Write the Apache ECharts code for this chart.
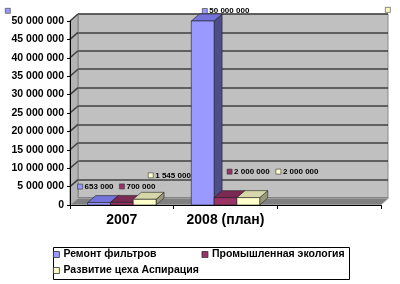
<!DOCTYPE html>
<html><head><meta charset="utf-8">
<script src="https://cdn.jsdelivr.net/npm/echarts@6/dist/echarts.min.js"></script>
<style>html,body{margin:0;padding:0;background:#fff}#c{width:400px;height:284px}</style>
</head><body><div id="c"></div>
<script>
// ---- data ----
const categories = ['2007', '2008 (план)', ''];
const seriesNames = ['Ремонт фильтров', 'Промышленная экология', 'Развитие цеха Аспирация'];
const remontFiltrov = [653000, 50000000, null];
const promEkologiya = [700000, 2000000, null];
const razvitieAspiraciya = [1545000, 2000000, null];
const yMin = 0, yMax = 50000000, yStep = 5000000;

// ---- styles ----
const FONT = 'Arial, "Liberation Sans", sans-serif';
const faceColors = [
  {front: '#9999ff', top: '#7373d9', side: '#4d4d8c'},
  {front: '#993366', top: '#7a2952', side: '#5c1f3d'},
  {front: '#ffffcc', top: '#d6d6aa', side: '#99997a'}
];
const DX = 8, DY = -7;
// label offsets relative to (bar front-left x, bar top y)
const labelOffsets = [
  [[-10, -16], [11, -10]],
  [[9, -16], [13, -26]],
  [[15, -24], [39, -26]]
];
const seriesValues = [remontFiltrov, promEkologiya, razvitieAspiraciya];

function fmt(v) { return String(Math.round(v)).replace(/\B(?=(\d{3})+(?!\d))/g, ' '); }

const yTicks = [];
for (let v = yMin; v <= yMax; v += yStep) yTicks.push(v);

const chart = echarts.init(document.getElementById('c'), null, {renderer: 'canvas'});

function barRender(si) {
  return function (params, api) {
    const ci = api.value(0), val = api.value(1);
    if (val == null || isNaN(val)) return;
    const band = api.size([1, 0])[0];
    const w = band * 0.22;
    const c = api.coord([ci, val]);
    const b = api.coord([ci, 0]);
    const x0 = c[0] - 1.5 * w + si * w, x1 = x0 + w;
    const yt = c[1], yb = b[1];
    const col = faceColors[si];
    const st = {stroke: '#222', lineWidth: 0.6};
    const off = labelOffsets[si][ci] || [0, -12];
    const lx = x0 + off[0], ly = yt + off[1];
    return {
      type: 'group',
      children: [
        {type: 'polygon', shape: {points: [[x1, yt], [x1 + DX, yt + DY], [x1 + DX, yb + DY], [x1, yb]]},
          style: Object.assign({fill: col.side}, st)},
        {type: 'polygon', shape: {points: [[x0, yt], [x1, yt], [x1 + DX, yt + DY], [x0 + DX, yt + DY]]},
          style: Object.assign({fill: col.top}, st)},
        {type: 'rect', shape: {x: x0, y: yt, width: w, height: yb - yt},
          style: Object.assign({fill: col.front}, st)},
        {type: 'rect', shape: {x: lx, y: ly - 2.5, width: 5, height: 5},
          style: {fill: col.front, stroke: '#333', lineWidth: 0.6}, z2: 10},
        {type: 'text', x: lx + 7, y: ly, z2: 10,
          style: {text: fmt(val), font: 'bold 8px ' + FONT, fill: '#000', verticalAlign: 'middle', align: 'left'}}
      ]
    };
  };
}

function frameRender(params, api) {
  const band = api.size([1, 0])[0];
  const L = api.coord([0, 0])[0] - band / 2;
  const R = api.coord([categories.length - 1, 0])[0] + band / 2;
  const yb = api.coord([0, yMin])[1];
  const yt = api.coord([0, yMax])[1];
  const children = [
    {type: 'polygon', shape: {points: [[L, yt], [L + DX, yt + DY], [L + DX, yb + DY], [L, yb]]},
      style: {fill: '#b4b4b4', stroke: '#808080', lineWidth: 1}},
    {type: 'polygon', shape: {points: [[L, yb], [R, yb], [R + DX, yb + DY], [L + DX, yb + DY]]},
      style: {fill: '#808080', stroke: '#c8c8c8', lineWidth: 0.8}}
  ];
  yTicks.forEach(function (v) {
    if (v === yMin) return;
    const y = api.coord([0, v])[1];
    children.push({type: 'line', shape: {x1: L, y1: y, x2: L + DX, y2: y + DY},
      style: {stroke: '#404040', lineWidth: 1.5}});
  });
  return {type: 'group', children: children};
}

const option = {
  animation: false,
  backgroundColor: '#fff',
  grid: [
    {left: 70, right: 19, top: 21, bottom: 79},
    {left: 78, right: 12, top: 14, bottom: 86, show: true, backgroundColor: '#c0c0c0', borderColor: '#8a8a8a', borderWidth: 1}
  ],
  xAxis: [
    {type: 'category', gridIndex: 0, data: categories, z: 10,
      axisLine: {lineStyle: {color: '#000', width: 1}},
      axisTick: {show: true, length: 4, lineStyle: {color: '#000'}},
      axisLabel: {color: '#000', fontFamily: FONT, fontWeight: 'bold', fontSize: 14, margin: 8, interval: 0}},
    {type: 'category', gridIndex: 1, data: categories, show: false}
  ],
  yAxis: [
    {type: 'value', gridIndex: 0, min: yMin, max: yMax, interval: yStep, z: 10,
      axisLine: {show: true, lineStyle: {color: '#000', width: 1}},
      axisTick: {show: true, length: 3, lineStyle: {color: '#000'}},
      splitLine: {show: false},
      axisLabel: {color: '#000', fontFamily: FONT, fontWeight: 'bold', fontSize: 10.5, margin: 6, formatter: fmt}},
    {type: 'value', gridIndex: 1, min: yMin, max: yMax, interval: yStep,
      axisLine: {show: false}, axisTick: {show: false}, axisLabel: {show: false},
      splitLine: {show: true, lineStyle: {color: '#404040', width: 1.7}}}
  ],
  legend: [
    {left: 53, top: 249, padding: 0, itemGap: 45, itemWidth: 6, itemHeight: 6, icon: 'rect',
      data: [seriesNames[0], seriesNames[1]],
      itemStyle: {borderColor: '#333', borderWidth: 0.8},
      textStyle: {color: '#000', fontFamily: FONT, fontWeight: 'bold', fontSize: 10.5, padding: [0, 0, 0, -1]}},
    {left: 53, top: 265, padding: 0, itemWidth: 6, itemHeight: 6, icon: 'rect',
      data: [seriesNames[2]],
      itemStyle: {borderColor: '#333', borderWidth: 0.8},
      textStyle: {color: '#000', fontFamily: FONT, fontWeight: 'bold', fontSize: 10.5, padding: [0, 0, 0, -1]}}
  ],
  graphic: [
    {type: 'rect', left: 51, top: 245, shape: {width: 296, height: 32},
      style: {fill: 'none', stroke: '#000', lineWidth: 1}, z: -1},
    {type: 'rect', left: 5, top: 8, shape: {width: 5, height: 5}, style: {fill: '#9999ff', stroke: '#333', lineWidth: 0.6}},
    {type: 'rect', left: 385, top: 7, shape: {width: 5, height: 5}, style: {fill: '#ffffcc', stroke: '#333', lineWidth: 0.6}}
  ],
  series: [
    {type: 'custom', name: '_frame', xAxisIndex: 0, yAxisIndex: 0, z: 1, silent: true,
      renderItem: frameRender, data: [[0, 0]], clip: false}
  ].concat(seriesValues.map(function (vals, si) {
    return {
      type: 'custom', name: seriesNames[si], xAxisIndex: 0, yAxisIndex: 0, z: 2 + si,
      itemStyle: {color: faceColors[si].front},
      renderItem: barRender(si), clip: false,
      data: vals.map(function (v, i) { return [i, v]; })
    };
  }))
};
chart.setOption(option);
</script>
</body></html>
